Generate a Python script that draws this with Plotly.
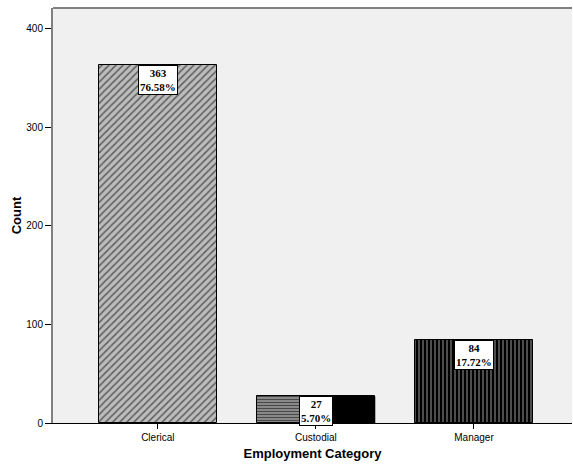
import plotly.graph_objects as go

categories = ["Clerical", "Custodial", "Manager"]
counts = [363, 27, 84]
pct_labels = ["76.58%", "5.70%", "17.72%"]
y_ticks = [0, 100, 200, 300, 400]

bar_width = 0.745
x_pos = list(range(len(categories)))

fig = go.Figure()

patterns = [
    dict(shape="/", fgcolor="#000000", bgcolor="#bcbcbc", size=5, solidity=0.3),
    dict(shape="-", fgcolor="#000000", bgcolor="#909090", size=3, solidity=0.4),
    dict(shape="|", fgcolor="#ffffff", bgcolor="#000000", size=4, solidity=0.3),
]
fills = ["#bcbcbc", "#909090", "#000000"]

for i, (c, v) in enumerate(zip(categories, counts)):
    fig.add_trace(go.Bar(
        x=[x_pos[i]], y=[v], width=bar_width,
        marker=dict(color=fills[i], pattern=patterns[i],
                    line=dict(color="#000000", width=1)),
        showlegend=False, hoverinfo="skip",
    ))

# Dark right half of the custodial bar (as rendered in the original)
ci = 1
fig.add_shape(type="rect", xref="x", yref="y",
              x0=x_pos[ci] + 0.11, x1=x_pos[ci] + bar_width / 2,
              y0=0, y1=counts[ci], fillcolor="#000000",
              line=dict(color="#000000", width=1), layer="above")

for i, v in enumerate(counts):
    fig.add_annotation(
        x=x_pos[i], y=v, xref="x", yref="y", yanchor="top",
        text=f"<b>{v}</b><br><b>{pct_labels[i]}</b>",
        showarrow=False, bgcolor="#ffffff", bordercolor="#000000",
        borderwidth=1, borderpad=1,
        font=dict(family="Liberation Serif", size=11, color="#000000"),
    )

fig.update_layout(
    width=573, height=465,
    margin=dict(l=53, r=1, t=8, b=42),
    paper_bgcolor="#ffffff", plot_bgcolor="#f0f0f0",
    bargap=0,
    font=dict(family="Liberation Sans", size=10, color="#000000"),
    xaxis=dict(
        tickmode="array", tickvals=x_pos, ticktext=categories,
        range=[-0.663, 2.62],
        showline=True, linecolor="#000000", linewidth=1,
        ticks="outside", ticklen=5, tickcolor="#000000",
        showgrid=False, zeroline=False,
        title=dict(text="<b>Employment Category</b>",
                   font=dict(family="Liberation Sans", size=13), standoff=6),
        tickfont=dict(size=10),
    ),
    yaxis=dict(
        tickmode="array", tickvals=y_ticks,
        range=[0, 421],
        showline=True, linecolor="#808080", linewidth=2,
        ticks="outside", ticklen=6, tickcolor="#000000",
        showgrid=False, zeroline=False,
        title=dict(text="<b>Count</b>",
                   font=dict(family="Liberation Sans", size=13), standoff=2),
        tickfont=dict(size=10),
    ),
)

# top border of the plot frame
fig.add_shape(type="line", xref="paper", yref="paper", x0=0, x1=1, y0=1, y1=1,
              line=dict(color="#808080", width=2))

fig.write_html("out.html")
